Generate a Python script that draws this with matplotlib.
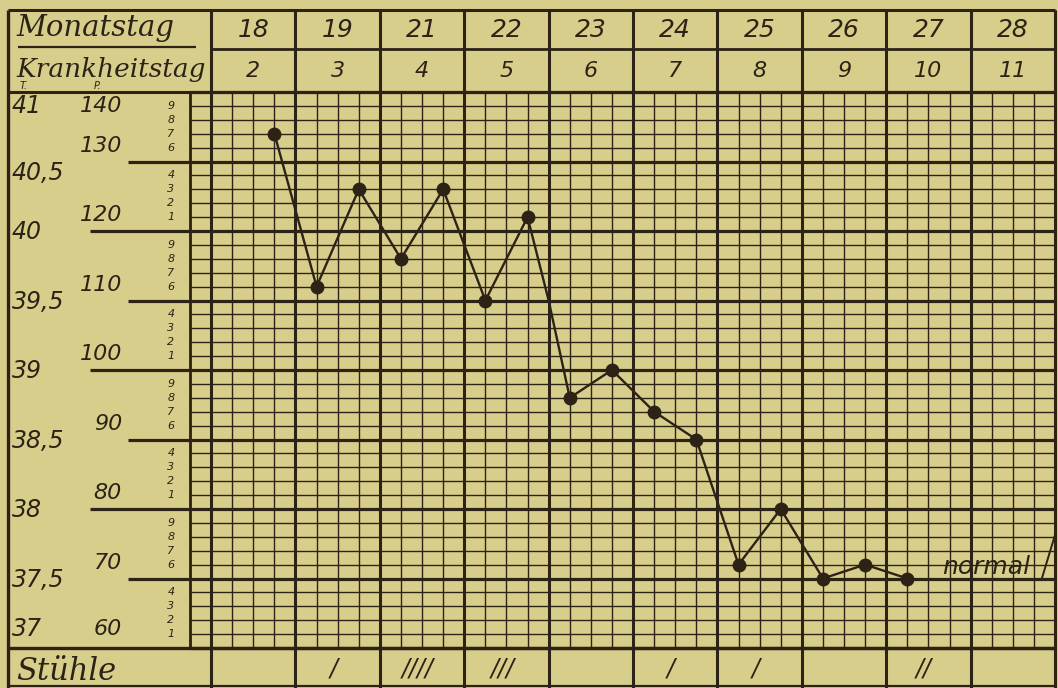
import matplotlib.pyplot as plt
import numpy as np

# chart values
MONTH_DAYS = [18, 19, 21, 22, 23, 24, 25, 26, 27, 28]
ILLNESS_DAYS = [2, 3, 4, 5, 6, 7, 8, 9, 10, 11]
STOOLS = [0, 1, 4, 3, 0, 1, 1, 0, 2, 0]

# time in day columns (0.25 = morning, 0.75 = evening), temperature in deg C
TEMP_TIME = [0.75, 1.25, 1.75, 2.25, 2.75, 3.25, 3.75, 4.0, 4.25, 4.75,
             5.25, 5.75, 6.25, 6.75, 7.25, 7.75, 8.25]
TEMP_VALUE = [40.7, 39.6, 40.3, 39.8, 40.3, 39.5, 40.1, 39.5, 38.8, 39.0,
              38.7, 38.5, 37.6, 38.0, 37.5, 37.6, 37.5]
TEMP_MARKED = [True, True, True, True, True, True, True, False, True, True,
               True, True, True, True, True, True, True]

TEMP_LABELS = ["41", "40,5", "40", "39,5", "39", "38,5", "38", "37,5", "37"]
TEMP_TICKS = [41, 40.5, 40, 39.5, 39, 38.5, 38, 37.5, 37]
PULSE_LABELS = ["140", "130", "120", "110", "100", "90", "80", "70", "60"]

BG = "#d8ce8c"
INK = "#2c2216"

W, H = 1058, 688
fig = plt.figure(figsize=(W / 100, H / 100), dpi=100, facecolor=BG)

# grid area in pixels: x 190..1055, y 92..648
ax = fig.add_axes([190 / W, (H - 648) / H, (1055 - 190) / W, (648 - 92) / H])
ax.set_xlim(-0.25, 10)
ax.set_ylim(37, 41)
ax.set_facecolor(BG)
ax.axis("off")

px_x = 10.25 / (1055 - 190)   # data units per pixel
px_y = 4.0 / (648 - 92)


def xp(px):
    return -0.25 + (px - 190) * px_x


def yp(py):
    return 41 + (92 - py) * px_y


left = xp(8)
top = yp(10)
row_mid = yp(49)
bottom = yp(688)
stool_bottom = yp(686)

line_kw = dict(color=INK, clip_on=False, solid_capstyle="butt")

# fine grid
for k in range(41):
    y = 37 + k * 0.1
    thick = k % 5 == 0
    ax.plot([-0.25, 10], [y, y], lw=2.3 if thick else 1.0, **line_kw)
for k in range(42):
    x = -0.25 + k * 0.25
    thick = abs(x - round(x)) < 1e-9
    ax.plot([x, x], [37, 41], lw=2.2 if thick else 1.0, **line_kw)

# extended thick lines into the label area
for t in TEMP_TICKS[1:-1]:
    x0 = xp(90) if float(t).is_integer() else xp(128)
    ax.plot([x0, -0.25], [t, t], lw=2.3, **line_kw)

# frame and header
ax.plot([left, 10], [top, top], lw=2.2, **line_kw)
ax.plot([left, 10], [41, 41], lw=2.2, **line_kw)
ax.plot([0, 10], [row_mid, row_mid], lw=2.0, **line_kw)
ax.plot([xp(18), xp(196)], [yp(47), yp(47)], lw=1.6, **line_kw)
ax.plot([left, left], [top, bottom], lw=2.4, **line_kw)
ax.plot([10, 10], [top, bottom], lw=2.0, **line_kw)
ax.plot([-0.25, -0.25], [37, 41], lw=2.0, **line_kw)
ax.plot([left, 10], [37, 37], lw=2.4, **line_kw)
ax.plot([left, 10], [stool_bottom, stool_bottom], lw=1.6, **line_kw)
for i in range(11):
    ax.plot([i, i], [41, top], lw=2.2, **line_kw)
    ax.plot([i, i], [37, bottom], lw=2.2, **line_kw)

hand = dict(family="DejaVu Sans", style="italic", color=INK)
script = dict(family="DejaVu Serif", style="italic", color=INK)

for i, (m, d) in enumerate(zip(MONTH_DAYS, ILLNESS_DAYS)):
    ax.text(i + 0.5, yp(30), str(m), ha="center", va="center", fontsize=18, **hand)
    ax.text(i + 0.5, yp(71), str(d), ha="center", va="center", fontsize=16, **hand)
    if STOOLS[i]:
        ax.text(i + 0.45, yp(668), "/" * STOOLS[i], ha="center", va="center",
                fontsize=17, **hand)

ax.text(xp(16), yp(28), "Monatstag", ha="left", va="center", fontsize=21, **script)
ax.text(xp(16), yp(70), "Krankheitstag", ha="left", va="center", fontsize=19, **script)
ax.text(xp(20), yp(86), "T.", ha="left", va="center", fontsize=7, **hand)
ax.text(xp(94), yp(86), "P.", ha="left", va="center", fontsize=7, **hand)
ax.text(xp(16), yp(672), "Stühle", ha="left", va="center", fontsize=22, **script)

# temperature and pulse scales
for t, tl, pl in zip(TEMP_TICKS, TEMP_LABELS, PULSE_LABELS):
    if t == 41:
        ty = 40.9
    elif t == 37:
        ty = 37.14
    elif t == 40.5:
        ty = t - 0.08
    else:
        ty = t - 0.01
    ax.text(xp(12), ty, tl, ha="left", va="center", fontsize=17, **hand)
    if t in (41, 37):
        ax.text(xp(122), ty, pl, ha="right", va="center", fontsize=16, **hand)
    else:
        ax.text(xp(122), t + 0.04, pl, ha="right", va="bottom", fontsize=16, **hand)

# small tenth digits
for band in range(8):
    base = 37 + band * 0.5
    digits = ["1", "2", "3", "4"] if band % 2 == 0 else ["6", "7", "8", "9"]
    for j, dg in enumerate(digits):
        ax.text(xp(171), base + 0.1 * (j + 1), dg, ha="center", va="center",
                fontsize=8, **hand)

# temperature curve
ax.plot(TEMP_TIME, TEMP_VALUE, color=INK, lw=1.7, zorder=5)
mt = [t for t, m in zip(TEMP_TIME, TEMP_MARKED) if m]
mv = [v for v, m in zip(TEMP_VALUE, TEMP_MARKED) if m]
ax.plot(mt, mv, "o", color=INK, ms=9, zorder=6)

ax.text(xp(986), yp(567), "normal", ha="center", va="center", fontsize=18,
        zorder=6, **hand)
ax.plot([xp(1042), xp(1055)], [yp(578), yp(535)], color=INK, lw=1.4, clip_on=False)

fig.savefig("out.png", dpi=100, facecolor=BG)
